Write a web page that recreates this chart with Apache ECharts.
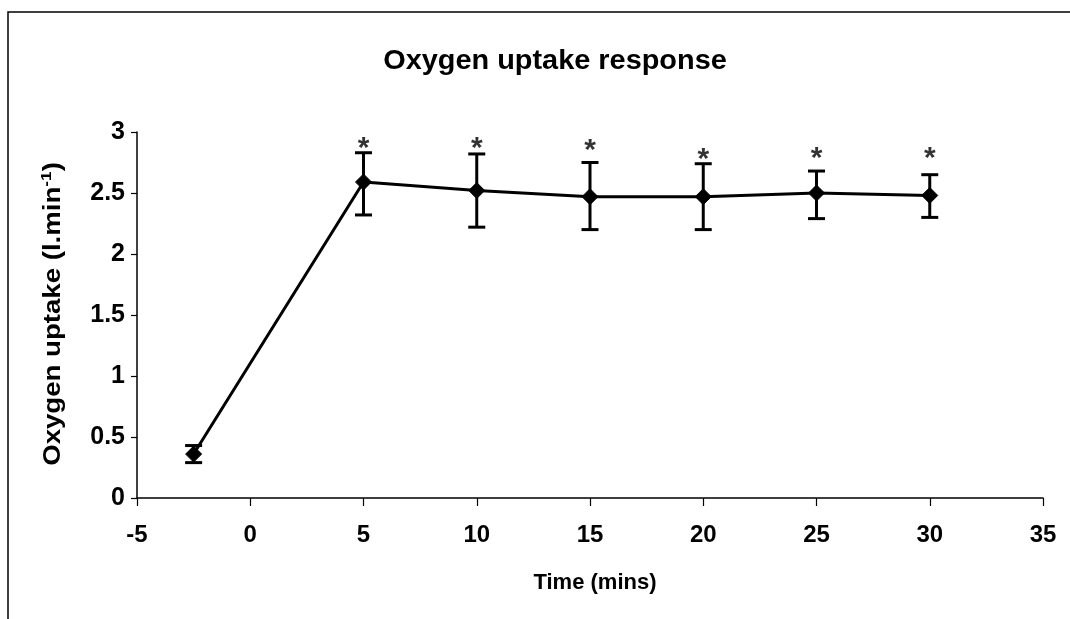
<!DOCTYPE html>
<html>
<head>
<meta charset="utf-8">
<script src="https://cdn.jsdelivr.net/npm/echarts@6/dist/echarts.min.js"></script>
<style>
html,body{margin:0;padding:0;background:#fff;}
#c{width:1070px;height:619px;}
</style>
</head>
<body>
<div id="c"></div>
<script>
const timeMins = [-2.5, 5, 10, 15, 20, 25, 30];
const uptakeMean = [0.36, 2.59, 2.52, 2.47, 2.47, 2.50, 2.48];
const uptakeUpper = [0.43, 2.83, 2.82, 2.75, 2.74, 2.68, 2.65];
const uptakeLower = [0.29, 2.32, 2.22, 2.20, 2.20, 2.29, 2.30];
const asteriskX = [5, 10, 15, 20, 25, 30];
const asteriskY = [2.92, 2.92, 2.90, 2.83, 2.84, 2.84];
const xTicks = [-5, 0, 5, 10, 15, 20, 25, 30, 35];
const yTicks = [0, 0.5, 1, 1.5, 2, 2.5, 3];

const FONT = '"Liberation Sans", Arial, sans-serif';
const chart = echarts.init(document.getElementById('c'));

const lineData = timeMins.map((x, i) => [x, uptakeMean[i]]);
const errData = timeMins.map((x, i) => [x, uptakeLower[i], uptakeUpper[i]]);
const starData = asteriskX.map((x, i) => [x, asteriskY[i]]);

chart.setOption({
  backgroundColor: '#fff',
  animation: false,
  grid: {left: 137, right: 27, top: 132, bottom: 121},
  xAxis: {
    type: 'value', min: xTicks[0], max: xTicks[xTicks.length - 1], interval: 5,
    axisLine: {lineStyle: {color: '#000', width: 1.5}},
    axisTick: {show: true, length: 8, inside: false, lineStyle: {color: '#000', width: 1.2}},
    axisLabel: {color: '#000', fontFamily: FONT, fontWeight: 'bold', fontSize: 24, margin: 25},
    splitLine: {show: false}
  },
  yAxis: {
    type: 'value', min: yTicks[0], max: yTicks[yTicks.length - 1], interval: 0.5,
    axisLine: {show: true, onZero: false, lineStyle: {color: '#000', width: 1.5}},
    axisTick: {show: true, length: 6, lineStyle: {color: '#000', width: 1.2}},
    axisLabel: {color: '#000', fontFamily: FONT, fontWeight: 'bold', fontSize: 25, margin: 12},
    splitLine: {show: false}
  },
  graphic: [
    {type: 'rect', shape: {x: 8, y: 12, width: 1100, height: 700}, style: {fill: 'none', stroke: '#000', lineWidth: 1.5}, silent: true},
    {type: 'text', x: 555, y: 62, scaleX: 1.07, style: {text: 'Oxygen uptake response', font: 'bold 27px ' + FONT, fill: '#000', align: 'center', verticalAlign: 'middle'}},
    {type: 'text', x: 595, y: 583, style: {text: 'Time (mins)', font: 'bold 22px ' + FONT, fill: '#000', align: 'center', verticalAlign: 'middle'}},
    {type: 'text', x: 52, y: 314, rotation: Math.PI / 2, scaleX: 1.15,
      style: {
        text: '{m|Oxygen uptake (l.min}{s|-1}{m|)}',
        align: 'center', verticalAlign: 'middle', fill: '#000',
        rich: {
          m: {font: 'bold 24px ' + FONT, fill: '#000', lineHeight: 26, verticalAlign: 'bottom'},
          s: {font: 'bold 15px ' + FONT, fill: '#000', lineHeight: 26, verticalAlign: 'top'}
        }
      }}
  ],
  series: [
    {
      type: 'custom',
      data: errData,
      z: 3,
      renderItem: function (params, api) {
        const x = api.value(0);
        const lo = api.coord([x, api.value(1)]);
        const hi = api.coord([x, api.value(2)]);
        const w = 8.5;
        const st = {stroke: '#000', lineWidth: 3};
        return {type: 'group', children: [
          {type: 'line', shape: {x1: lo[0], y1: lo[1], x2: hi[0], y2: hi[1]}, style: st},
          {type: 'line', shape: {x1: lo[0] - w, y1: lo[1], x2: lo[0] + w, y2: lo[1]}, style: st},
          {type: 'line', shape: {x1: hi[0] - w, y1: hi[1], x2: hi[0] + w, y2: hi[1]}, style: st}
        ]};
      }
    },
    {
      type: 'line',
      data: lineData,
      z: 4,
      symbol: 'diamond',
      symbolSize: 16,
      showAllSymbol: true,
      lineStyle: {color: '#000', width: 3},
      itemStyle: {color: '#000', borderColor: '#000'}
    },
    {
      type: 'scatter',
      data: starData,
      symbol: 'circle',
      symbolSize: 1,
      itemStyle: {color: 'rgba(0,0,0,0)'},
      label: {show: true, position: 'inside', formatter: '*', color: '#000', fontFamily: FONT, fontWeight: 'bold', fontSize: 30, offset: [0, 7]}
    }
  ]
});
</script>
</body>
</html>
